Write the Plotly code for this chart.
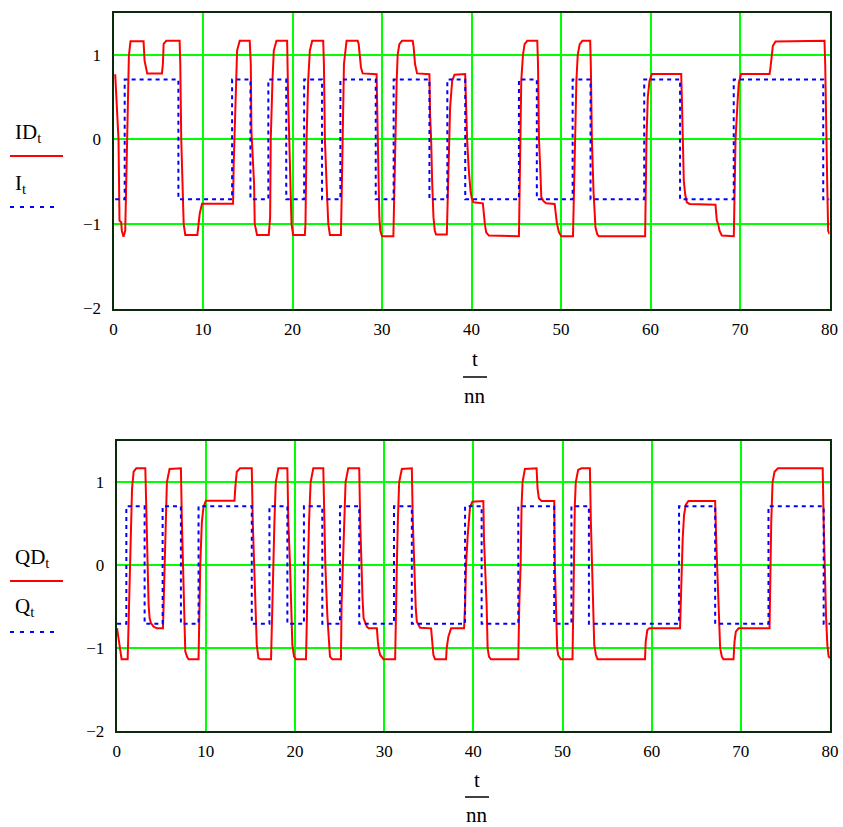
import plotly.graph_objects as go

W, H = 843, 827

# ---------------- data: top plot (I ideal, ID distorted) ----------------
I_t = [0.19, 1.25, 7.25, 13.25, 15.3, 17.3, 19.3, 21.3, 23.3, 25.35, 29.3, 31.3,
       35.3, 37.3, 39.3, 45.3, 47.3, 51.3, 53.3, 59.3, 63.3, 69.3, 79.3, 80.0]
I_v = [-0.707, 0.707, -0.707, 0.707, -0.707, 0.707, -0.707, 0.707, -0.707, 0.707,
       -0.707, 0.707, -0.707, 0.707, -0.707, 0.707, -0.707, 0.707, -0.707, 0.707,
       -0.707, 0.707, -0.707, -0.707]

ID_t = [0.19, 0.37, 0.56, 0.67, 0.86, 0.93, 1.12, 1.31, 1.38, 1.49, 1.60, 1.72, 1.90,
        3.36, 3.47, 3.66, 3.77, 5.41, 5.52, 5.60, 5.90, 7.39, 7.46, 7.57, 7.69, 7.84, 8.02,
        9.37, 9.51, 9.63, 9.89, 13.36, 13.43, 13.54, 13.66, 13.81, 14.10,
        15.22, 15.34, 15.41, 15.71, 15.78, 16.04, 17.35, 17.50, 17.57, 17.76, 17.91, 18.21,
        19.40, 19.51, 19.63, 19.78, 19.89, 20.07, 21.38, 21.45, 21.57, 21.75, 21.94, 22.20,
        23.43, 23.51, 23.62, 23.81, 24.0, 24.18, 25.41, 25.49, 25.60, 25.75, 26.04,
        27.28, 27.39, 27.54, 27.65, 27.84, 29.40, 29.44, 29.51, 29.63, 29.70, 29.81, 30.0,
        31.27, 31.38, 31.49, 31.64, 31.75, 31.94, 32.24, 33.43, 33.54, 33.69, 33.92,
        35.30, 35.37, 35.49, 35.60, 35.75, 35.90, 36.04, 37.24, 37.35, 37.46, 37.61, 37.84, 38.10,
        39.29, 39.40, 39.51, 39.70, 39.78, 39.89, 40.04, 40.22, 41.27, 41.34, 41.49, 41.64, 41.94,
        45.30, 45.37, 45.45, 45.56, 45.75, 45.93, 46.23, 47.35, 47.43, 47.54, 47.69, 47.80,
        48.06, 48.36, 49.29, 49.40, 49.55, 49.78, 50.04, 51.34, 51.45, 51.57, 51.72, 51.87,
        52.09, 52.39, 53.26, 53.33, 53.45, 53.63, 53.74, 53.85, 54.04, 54.23,
        59.40, 59.48, 59.55, 59.70, 59.89, 60.15, 63.43, 63.50, 63.61, 63.72, 63.87, 64.06, 64.36,
        67.26, 67.41, 67.56, 67.71, 67.97, 69.31, 69.39, 69.50, 69.76, 69.87, 70.13,
        73.30, 73.41, 73.52, 73.67, 73.97, 79.44, 79.52, 79.63, 79.74, 79.85, 80.0]
ID_v = [0.77, 0.46, 0.0, -0.96, -0.98, -1.08, -1.15, -1.08, -0.69, 0.0, 0.5, 0.99, 1.16,
        1.16, 0.93, 0.81, 0.78, 0.78, 0.89, 1.13, 1.165, 1.165, 0.89, 0.0, -0.49, -1.0, -1.13,
        -1.13, -1.0, -0.88, -0.76, -0.76, -0.29, 0.1, 0.69, 1.05, 1.165,
        1.165, 0.89, 0.1, -0.53, -1.0, -1.13, -1.13, -0.92, 0.0, 0.69, 1.05, 1.165,
        1.165, 0.5, 0.0, -0.49, -1.0, -1.13, -1.13, -1.0, 0.0, 0.69, 1.05, 1.165,
        1.165, 0.89, 0.0, -0.53, -1.0, -1.13, -1.13, -0.69, 0.0, 0.89, 1.165,
        1.165, 1.13, 0.97, 0.85, 0.78, 0.77, 0.5, 0.0, -0.37, -0.92, -1.08, -1.146,
        -1.146, -0.49, 0.0, 0.69, 1.0, 1.126, 1.165, 1.165, 1.087, 0.89, 0.78,
        0.77, 0.3, 0.0, -0.49, -0.92, -1.08, -1.126, -1.126, -0.61, 0.0, 0.38, 0.69, 0.764,
        0.772, 0.38, 0.0, -0.37, -0.53, -0.61, -0.70, -0.744, -0.756, -0.88, -1.0, -1.1, -1.138,
        -1.146, -0.49, 0.0, 0.69, 1.0, 1.126, 1.165, 1.165, 0.89, 0.0, -0.37, -0.685,
        -0.732, -0.756, -0.764, -0.88, -1.0, -1.1, -1.146, -1.146, -0.49, 0.0, 0.69, 1.0,
        1.126, 1.165, 1.165, 0.89, 0.0, -0.61, -0.84, -1.04, -1.12, -1.146,
        -1.146, -0.49, 0.0, 0.5, 0.69, 0.772, 0.772, 0.5, 0.0, -0.49, -0.646, -0.744, -0.764,
        -0.772, -0.96, -1.0, -1.08, -1.138, -1.146, -0.685, 0.0, 0.5, 0.67, 0.772,
        0.772, 0.85, 1.0, 1.106, 1.157, 1.165, 0.89, 0.0, -0.49, -1.08, -1.12]

# ---------------- data: bottom plot (Q ideal, QD distorted) ----------------
Q_t = [0.04, 1.08, 3.13, 5.15, 7.2, 9.18, 15.15, 17.13, 19.14, 21.0, 23.06, 25.04, 27.2,
       31.1, 33.1, 39.07, 40.93, 45.04, 49.07, 51.0, 52.96, 63.07, 67.12, 73.1, 79.29, 80.0]
Q_v = [-0.707, 0.707, -0.707, 0.707, -0.707, 0.707, -0.707, 0.707, -0.707, 0.707,
       -0.707, 0.707, -0.707, 0.707, -0.707, 0.707, -0.707, 0.707, -0.707, 0.707,
       -0.707, 0.707, -0.707, 0.707, -0.707, -0.707]

QD_t = [0.04, 0.1, 0.2, 0.37, 0.55, 1.23, 1.34, 1.45, 1.60, 1.72, 1.90, 2.20,
        3.21, 3.32, 3.47, 3.58, 3.69, 3.84, 4.14, 4.51, 5.19, 5.26, 5.37, 5.52, 5.63, 5.93,
        7.20, 7.31, 7.43, 7.57, 7.69, 7.87, 8.06, 9.18, 9.25, 9.37, 9.55, 9.74, 10.0,
        13.21, 13.32, 13.47, 13.84, 15.15, 15.26, 15.41, 15.56, 15.71, 15.90, 16.16,
        17.31, 17.43, 17.54, 17.69, 17.84, 18.13, 19.14, 19.25, 19.44, 19.55, 19.70, 19.89, 20.11,
        21.23, 21.31, 21.42, 21.57, 21.75, 22.05, 23.17, 23.28, 23.40, 23.62, 23.81, 23.92, 24.18,
        25.15, 25.22, 25.34, 25.49, 25.67, 25.97, 27.20, 27.31, 27.43, 27.57, 27.69, 27.87,
        28.06, 28.25, 29.18, 29.29, 29.37, 29.55, 29.93, 31.23, 31.31, 31.42, 31.53, 31.68, 31.98,
        33.10, 33.21, 33.36, 33.54, 33.66, 33.84, 34.03, 35.26, 35.41, 35.52, 35.71,
        36.94, 37.01, 37.20, 37.50, 38.96, 39.07, 39.18, 39.37, 39.51, 39.63, 39.89,
        41.12, 41.19, 41.31, 41.49, 41.60, 41.75, 41.98, 45.04, 45.15, 45.30, 45.41, 45.52, 45.78,
        47.09, 47.20, 47.35, 47.65, 49.07, 49.14, 49.25, 49.40, 49.51, 49.81,
        51.12, 51.23, 51.38, 51.49, 51.75, 52.13, 53.07, 53.18, 53.33, 53.45, 53.56, 53.75, 53.93,
        59.25, 59.33, 59.51, 59.74, 63.18, 63.30, 63.37, 63.48, 63.63, 63.82, 64.12,
        67.12, 67.23, 67.34, 67.49, 67.60, 67.68, 67.87, 68.05, 69.18, 69.29, 69.44, 69.74,
        73.22, 73.30, 73.41, 73.56, 73.78, 74.16, 79.18, 79.29, 79.40, 79.55, 79.70, 79.85, 80.0]
QD_v = [-0.76, -0.8, -0.88, -1.0, -1.137, -1.137, -0.683, 0.0, 0.52, 0.92, 1.124, 1.165,
        1.165, 0.52, 0.0, -0.48, -0.64, -0.70, -0.743, -0.763, -0.763, -0.48, 0.0, 0.52, 1.0, 1.157,
        1.165, 0.52, 0.0, -0.48, -1.04, -1.10, -1.137, -1.137, -0.683, 0.0, 0.52, 0.70, 0.775,
        0.775, 0.96, 1.124, 1.165, 1.165, 0.52, 0.0, -0.52, -0.964, -1.124, -1.137,
        -1.137, -0.48, 0.0, 0.52, 1.0, 1.165, 1.165, 0.52, 0.0, -0.48, -0.964, -1.104, -1.137,
        -1.137, -0.683, 0.0, 0.52, 1.0, 1.165, 1.165, 0.52, 0.0, -0.60, -0.964, -1.104, -1.137,
        -1.137, -0.48, 0.0, 0.52, 1.0, 1.165, 1.165, 0.52, 0.0, -0.40, -0.643, -0.703,
        -0.743, -0.763, -0.763, -0.924, -1.0, -1.084, -1.137, -1.137, -0.48, 0.0, 0.52, 1.0, 1.157,
        1.165, 0.52, 0.0, -0.52, -0.683, -0.723, -0.755, -0.763, -1.0, -1.084, -1.137,
        -1.137, -1.0, -0.863, -0.763, -0.763, -0.48, 0.0, 0.36, 0.52, 0.70, 0.763,
        0.771, 0.32, 0.0, -0.48, -1.0, -1.104, -1.137, -1.137, -0.48, 0.0, 0.72, 1.0, 1.157,
        1.165, 0.924, 0.803, 0.771, 0.771, 0.0, -0.48, -1.0, -1.084, -1.137,
        -1.137, 0.0, 0.72, 1.0, 1.145, 1.165, 1.165, 0.52, 0.0, -0.56, -0.964, -1.084, -1.137,
        -1.137, -0.924, -0.783, -0.763, -0.763, -0.281, 0.0, 0.32, 0.60, 0.723, 0.771,
        0.771, 0.32, 0.0, -0.52, -0.884, -1.0, -1.104, -1.137, -1.137, -0.924, -0.803, -0.763,
        -0.763, 0.0, 0.52, 1.0, 1.124, 1.165, 1.165, 0.52, 0.0, -0.60, -0.964, -1.104, -1.12]

x_ticks = [0, 10, 20, 30, 40, 50, 60, 70, 80]
y_ticks = [-2, -1, 0, 1]
x_range = [0, 80]
y_range = [-2, 1.5]

# ---------------- figure ----------------
FONT = "Liberation Serif"
RED = "#ff0000"
BLUE = "#0000ff"
GRID = "#00ff00"
FRAME = "#0b2a0b"


def px(x):
    return x / W


def py(y):
    return 1 - y / H


fig = go.Figure()
fig.add_trace(go.Scatter(x=ID_t, y=ID_v, mode="lines", line=dict(color=RED, width=2),
                         xaxis="x", yaxis="y", showlegend=False))
fig.add_trace(go.Scatter(x=I_t, y=I_v, mode="lines",
                         line=dict(color=BLUE, width=2, dash="4px,4px", shape="hv"),
                         xaxis="x", yaxis="y", showlegend=False))
fig.add_trace(go.Scatter(x=QD_t, y=QD_v, mode="lines", line=dict(color=RED, width=2),
                         xaxis="x2", yaxis="y2", showlegend=False))
fig.add_trace(go.Scatter(x=Q_t, y=Q_v, mode="lines",
                         line=dict(color=BLUE, width=2, dash="4px,4px", shape="hv"),
                         xaxis="x2", yaxis="y2", showlegend=False))

tickfont = dict(family=FONT, size=17, color="black")


def xax(domain, anchor):
    return dict(domain=domain, anchor=anchor, range=x_range, tickvals=x_ticks,
                showgrid=True, gridcolor=GRID, gridwidth=2, zeroline=False,
                showline=True, linecolor=FRAME, linewidth=2, mirror=True,
                ticks="", tickfont=tickfont, ticklabelstandoff=4, automargin=False,
                fixedrange=True)


def yax(domain, anchor):
    return dict(domain=domain, anchor=anchor, range=y_range, tickvals=y_ticks,
                showgrid=True, gridcolor=GRID, gridwidth=2, zeroline=False,
                showline=True, linecolor=FRAME, linewidth=2, mirror=True,
                ticks="", tickfont=tickfont, ticklabelstandoff=7, automargin=False,
                fixedrange=True)


fig.update_layout(
    width=W, height=H,
    margin=dict(l=0, r=0, t=0, b=0),
    paper_bgcolor="white", plot_bgcolor="white",
    xaxis=xax([px(113.5), px(829.5)], "y"),
    yaxis=yax([py(308.5), py(12.5)], "x"),
    xaxis2=xax([px(116.7), px(830)], "y2"),
    yaxis2=yax([py(731), py(440.5)], "x2"),
)

annotations = []
shapes = []


def legend_block(label_top, label_bot, y_top, y_line1, y_bot, y_line2):
    annotations.append(dict(text=label_top, x=px(13), y=py(y_top), xref="paper", yref="paper",
                            xanchor="left", yanchor="middle", showarrow=False,
                            font=dict(family=FONT, size=21, color="black")))
    annotations.append(dict(text=label_bot, x=px(13), y=py(y_bot), xref="paper", yref="paper",
                            xanchor="left", yanchor="middle", showarrow=False,
                            font=dict(family=FONT, size=21, color="black")))
    shapes.append(dict(type="line", xref="paper", yref="paper", x0=px(10), x1=px(63),
                       y0=py(y_line1), y1=py(y_line1), line=dict(color=RED, width=2)))
    shapes.append(dict(type="line", xref="paper", yref="paper", x0=px(10), x1=px(60),
                       y0=py(y_line2), y1=py(y_line2),
                       line=dict(color=BLUE, width=2, dash="4px,6px")))


def axis_title(xc, y_t, y_line, y_nn):
    annotations.append(dict(text="t", x=px(xc), y=py(y_t), xref="paper", yref="paper",
                            xanchor="center", yanchor="middle", showarrow=False,
                            font=dict(family=FONT, size=21, color="black")))
    annotations.append(dict(text="nn", x=px(xc), y=py(y_nn), xref="paper", yref="paper",
                            xanchor="center", yanchor="middle", showarrow=False,
                            font=dict(family=FONT, size=21, color="black")))
    shapes.append(dict(type="line", xref="paper", yref="paper", x0=px(xc - 12), x1=px(xc + 12),
                       y0=py(y_line), y1=py(y_line), line=dict(color="black", width=1.5)))


legend_block("ID<sub>t</sub>", "I<sub>t</sub>", 133, 156, 184, 207)
legend_block("QD<sub>t</sub>", "Q<sub>t</sub>", 558, 581, 607, 632)
axis_title(475, 359, 377, 396)
axis_title(477, 780, 797, 815)

fig.update_layout(annotations=annotations, shapes=shapes)

fig.write_html("out.html",
               config={"displayModeBar": False},
               post_script="document.body.style.margin='0';"
                           "document.body.style.overflow='hidden';")
